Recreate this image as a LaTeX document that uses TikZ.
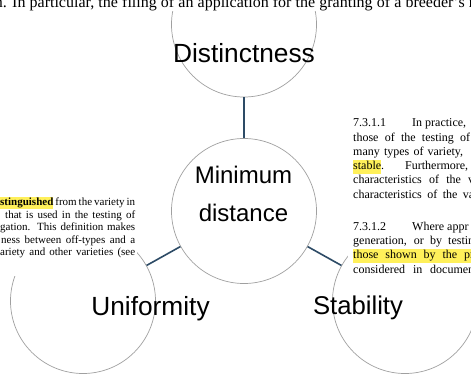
\documentclass[tikz,border=0pt]{standalone}
\usepackage{fontspec}
\setmainfont{Liberation Sans}
\newfontfamily\docfont{Liberation Serif}
\definecolor{hly}{RGB}{255,240,90}
\definecolor{connc}{RGB}{45,75,102}
\definecolor{ringc}{RGB}{160,160,160}
\newcommand\hlt[1]{{\setlength{\fboxsep}{0pt}\colorbox{hly}{\strut#1}}}
\tikzset{
 ring/.style={circle, draw=ringc, line width=0.7pt, minimum size=145pt, inner sep=0pt},
 conn/.style={draw=connc, line width=1.6pt},
 lab/.style={anchor=base, inner sep=0pt, font=\fontsize{26.3}{30}\selectfont},
 labm/.style={anchor=base, inner sep=0pt, font=\fontsize{24}{28}\selectfont},
 txtl/.style={anchor=base west, inner sep=0pt, font=\docfont\fontsize{11}{12.5}\selectfont},
 txtr/.style={anchor=base west, inner sep=0pt, font=\docfont\fontsize{12}{14.3}\selectfont},
 txtt/.style={anchor=base west, inner sep=0pt, font=\docfont\fontsize{16}{19}\selectfont},
 cover/.style={fill=white, draw=none},
}
\begin{document}
\begin{tikzpicture}[x=1pt,y=-1pt]
\useasboundingbox[fill=white] (0,0) rectangle (471,375);
% circles
\node[ring] (D) at (244,24.5) {};
\node[ring] (M) at (244,211) {};
\node[ring] (U) at (83,301) {};
\node[ring] (S) at (405,301) {};
% white backgrounds of the document snippets
\path[cover] (-5,-5) rectangle (480,11);
\path[cover] (-5,190) rectangle (137,276);
\path[cover] (348,112) rectangle (480,278);
% top line
\node[txtt, anchor=base east] (t0) at (7,7.5) {n.};
\node[txtt] (t1) at (12,7.5) {\makebox[462pt][s]{In particular, the filing of an application for the granting of a breeder’s r}};
% left snippet
\node[txtl] (l1) at (0,205.5) {\makebox[135pt][s]{\hlt{\textbf{stinguished}} from the variety in}};
\node[txtl] (l2) at (5,218) {\makebox[130pt][s]{that is used in the testing of}};
\node[txtl] (l3) at (0,230.5) {\makebox[135pt][s]{gation. This definition makes}};
\node[txtl] (l4) at (1,243) {\makebox[134pt][s]{ness between off-types and a}};
\node[txtl] (l5) at (0,255.5) {\makebox[135pt][s]{ariety and other varieties (see}};
% right snippet
\node[txtr] (r0) at (353,126.5) {\makebox[59pt][l]{7.3.1.1}In practice,};
\node[txtr] (r1) at (353,141) {\makebox[117pt][s]{those of the testing of}};
\node[txtr] (r2) at (353,155.3) {\makebox[110pt][s]{many types of variety,}};
\node[txtr] (r3) at (353,169.6) {\makebox[115pt][s]{\hlt{stable}.\hfill Furthermore,}};
\node[txtr] (r4) at (353,183.9) {\makebox[121pt][s]{characteristics of the v}};
\node[txtr] (r5) at (353,198.2) {\makebox[121pt][s]{characteristics of the va}};
\node[txtr] (r6) at (353,230.2) {\makebox[59pt][l]{7.3.1.2}Where appr};
\node[txtr] (r7) at (353,244.5) {\makebox[121pt][s]{generation, or by testin}};
\node[txtr] (r8) at (353,258.8) {\hlt{\makebox[121pt][s]{those shown by the pr}}};
\node[txtr] (r9) at (353,273) {\makebox[121pt][s]{considered in documen}};
% connectors
\draw[conn] (D) -- (M);
\draw[conn] (M) -- (U);
\draw[conn] (M) -- (S);
% labels
\node[lab] (dl) at (244,62) {Distinctness};
\node[labm] (ml1) at (243.5,183) {Minimum};
\node[labm] (ml2) at (243.5,221.5) {distance};
\node[lab] (ul) at (150.5,315) {Uniformity};
\node[lab, font=\fontsize{25.7}{30}\selectfont] (sl) at (358,314) {Stability};
\end{tikzpicture}
\end{document}
